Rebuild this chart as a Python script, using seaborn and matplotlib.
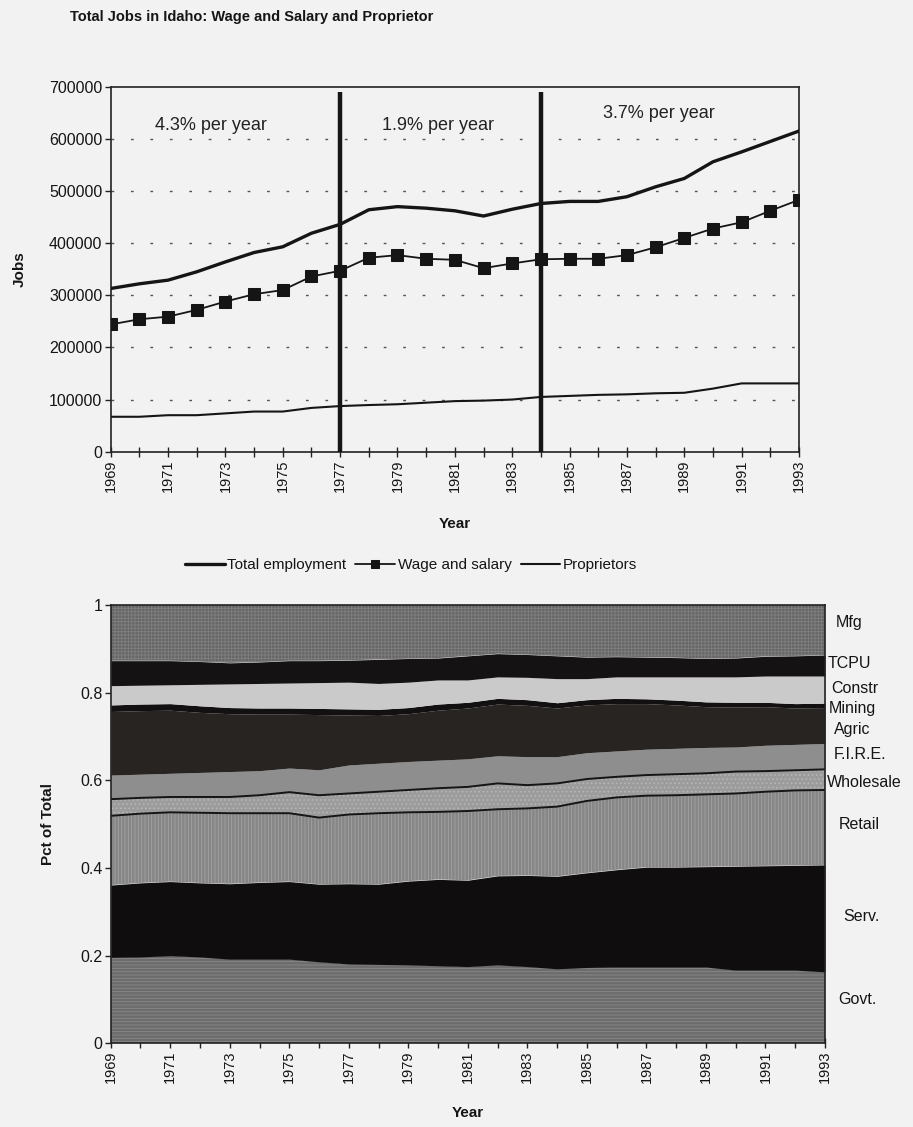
import numpy as np
import pandas as pd
import matplotlib
matplotlib.use("Agg")
import matplotlib.pyplot as plt
from matplotlib.ticker import FuncFormatter
import seaborn as sns

# ---------------- data ----------------
years = list(range(1969, 1994))

total_employment = [313000, 322000, 329000, 345000, 364000, 382000, 393000, 419000,
                    436000, 464000, 470000, 467000, 462000, 452000, 465000, 476000,
                    480000, 480000, 489000, 508000, 524000, 556000, 575000, 595000, 615000]
wage_salary = [244000, 254000, 259000, 272000, 288000, 302000, 310000, 336000,
               347000, 372000, 377000, 370000, 368000, 352000, 361000, 369000,
               370000, 370000, 377000, 392000, 410000, 428000, 440000, 462000, 483000]
proprietors = [67000, 67000, 70000, 70000, 73500, 77000, 77000, 84000,
               87500, 89500, 91000, 94000, 97000, 98000, 100000, 105000,
               107000, 109000, 110000, 112000, 113000, 121000, 131000, 131000, 131000]

period_breaks = [1977, 1984]
period_labels = ["4.3% per year", "1.9% per year", "3.7% per year"]
period_label_x = [1972.5, 1980.4, 1988.1]
period_label_y = [626000, 626000, 649000]

sectors = ["Govt.", "Serv.", "Retail", "Wholesale", "F.I.R.E.",
           "Agric", "Mining", "Constr", "TCPU", "Mfg"]
govt = [.196, .197, .200, .197, .192, .192, .192, .186, .181, .180, .179, .177, .175,
        .179, .175, .170, .173, .174, .174, .174, .174, .167, .167, .167, .163]
serv = [.165, .169, .169, .169, .172, .175, .177, .177, .183, .183, .191, .197, .197,
        .203, .208, .211, .216, .222, .228, .228, .229, .237, .238, .239, .244]
retail = [.158, .158, .158, .160, .161, .158, .156, .152, .158, .162, .157, .154, .158,
          .152, .153, .159, .164, .165, .163, .164, .165, .166, .169, .171, .171]
wholesale = [.038, .036, .035, .036, .037, .041, .048, .051, .048, .049, .051, .054, .055,
             .059, .053, .053, .050, .047, .047, .048, .048, .050, .047, .046, .047]
fire = [.055, .054, .054, .056, .058, .056, .055, .058, .065, .065, .065, .064, .064,
        .063, .065, .061, .060, .059, .059, .059, .059, .056, .059, .059, .059]
agric = [.145, .145, .144, .137, .132, .129, .123, .126, .114, .109, .109, .114, .116,
         .118, .117, .111, .109, .108, .104, .099, .093, .091, .088, .083, .082]
mining = [.015, .015, .015, .015, .014, .014, .014, .014, .014, .014, .014, .014, .013,
          .013, .013, .012, .012, .012, .011, .011, .011, .011, .010, .010, .010]
constr = [.044, .043, .043, .049, .054, .056, .057, .059, .061, .059, .058, .055, .051,
          .049, .051, .055, .048, .049, .050, .053, .057, .058, .060, .063, .062]
tcpu = [.057, .056, .055, .052, .048, .049, .051, .050, .050, .055, .054, .050, .055,
        .053, .052, .052, .049, .046, .045, .044, .042, .043, .045, .046, .048]
mfg = [.127, .127, .127, .129, .132, .130, .127, .127, .126, .124, .122, .121, .116,
       .111, .113, .116, .119, .118, .119, .120, .122, .121, .117, .116, .114]

label_y = [0.10, 0.29, 0.50, 0.595, 0.66, 0.715, 0.764, 0.81, 0.867, 0.96]
label_x_px = [838, 843, 839, 827, 834, 834, 829, 831, 828, 836]

# ---------------- style ----------------
sns.set_theme(style="white")
plt.rcParams["font.family"] = ["Liberation Sans", "DejaVu Sans"]
plt.rcParams["hatch.linewidth"] = 0.6
BG = "#f2f2f2"
INK = "#151515"

fig = plt.figure(figsize=(9.13, 11.27), dpi=100, facecolor=BG)

W, H = 913, 1127
def axrect(l, r, t, b):
    return [l / W, 1 - b / H, (r - l) / W, (b - t) / H]

def style_axis(ax):
    ax.set_xticks(years)
    ax.set_xticklabels([str(y) if (y - 1969) % 2 == 0 else "" for y in years],
                       rotation=90)
    ax.tick_params(axis="x", direction="inout", length=7, width=1, color="#222222",
                   labelsize=10.5, pad=2, bottom=True, labelcolor=INK)
    ax.tick_params(axis="y", direction="out", length=4, width=1, color="#222222",
                   labelsize=11.5, left=True, pad=2, labelcolor=INK)
    for s in ax.spines.values():
        s.set_color("#222222")
        s.set_linewidth(1.2)

# ---------------- top chart ----------------
ax1 = fig.add_axes(axrect(110.7, 799, 86.7, 451.7))
ax1.set_facecolor(BG)

df = pd.DataFrame({"Year": years, "Total employment": total_employment,
                   "Wage and salary": wage_salary, "Proprietors": proprietors})

for yv in range(100000, 700000, 100000):
    ax1.axhline(yv, color="#555555", lw=1.0, ls=(0, (2, 12)), zorder=1)

sns.lineplot(data=df, x="Year", y="Total employment", ax=ax1, color=INK,
             lw=2.4, label="Total employment", zorder=3)
sns.lineplot(data=df, x="Year", y="Wage and salary", ax=ax1, color=INK,
             lw=1.3, marker="s", markersize=8, markeredgecolor=INK,
             label="Wage and salary", zorder=3)
sns.lineplot(data=df, x="Year", y="Proprietors", ax=ax1, color=INK,
             lw=1.5, label="Proprietors", zorder=3)

for xb in period_breaks:
    ax1.plot([xb, xb], [0, 690000], color=INK, lw=3.2, zorder=4,
             solid_capstyle="butt")

for txt, x, y in zip(period_labels, period_label_x, period_label_y):
    ax1.text(x, y, txt, ha="center", va="center", fontsize=13, color="#222222")

ax1.set_xlim(1969, 1993)
ax1.set_ylim(0, 700000)
ax1.set_yticks(range(0, 700001, 100000))
ax1.yaxis.set_major_formatter(FuncFormatter(lambda v, p: f"{int(v)}"))
style_axis(ax1)
ax1.set_xlabel("Year", fontsize=11, fontweight="bold", color=INK)
ax1.set_ylabel("Jobs", fontsize=11, fontweight="bold", color=INK)
ax1.xaxis.set_label_coords(0.5, -0.18)
ax1.yaxis.set_label_coords(-0.122, 0.5)

handles, labels = ax1.get_legend_handles_labels()
ax1.get_legend().remove()
fig.legend(handles, labels, loc="center", bbox_to_anchor=(411 / W, 1 - 565 / H),
           ncol=3, frameon=False, fontsize=11, handlelength=2.6,
           columnspacing=0.6, handletextpad=0.15, markerscale=0.8,
           labelcolor=INK)

# ---------------- bottom chart ----------------
ax2 = fig.add_axes(axrect(110.7, 825, 605, 1043.3))
ax2.set_facecolor(BG)

series = [govt, serv, retail, wholesale, fire, agric, mining, constr, tcpu, mfg]
face = ["#6c6c6c", "#0f0d0d", "#868686", "#9c9c9c", "#8e8e8e",
        "#282422", "#121010", "#cacaca", "#141212", "#666666"]
hatches = ["-----", None, "|||||", "....", None, None, None, None, None, "+++++"]
hatch_col = ["#8a8a8a", None, "#a4a4a4", "#b8b8b8", None, None, None, None, None, "#808080"]

polys = ax2.stackplot(years, *series, colors=face, linewidth=0)
for poly, h, hc in zip(polys, hatches, hatch_col):
    poly.set_linewidth(0)
    if h:
        poly.set_hatch(h)
        poly.set_edgecolor(hc)

cum = np.cumsum(np.array(series), axis=0)
ax2.plot(years, cum[2], color=INK, lw=1.4)
ax2.plot(years, cum[3], color=INK, lw=1.4)

for name, y, xp in zip(sectors, label_y, label_x_px):
    ax2.text((xp - 110.7) / 714.3, y, name, transform=ax2.get_yaxis_transform(),
             ha="left", va="center", fontsize=11.5, color=INK)

ax2.set_xlim(1969, 1993)
ax2.set_ylim(0, 1)
ax2.set_yticks([0, 0.2, 0.4, 0.6, 0.8, 1.0])
ax2.yaxis.set_major_formatter(FuncFormatter(lambda v, p: f"{v:g}"))
style_axis(ax2)
ax2.set_xlabel("Year", fontsize=11, fontweight="bold", color=INK)
ax2.set_ylabel("Pct of Total", fontsize=11, fontweight="bold", color=INK)
ax2.xaxis.set_label_coords(0.5, -0.143)
ax2.yaxis.set_label_coords(-0.078, 0.5)

fig.text(70 / W, 1 - 17 / H, "Total Jobs in Idaho: Wage and Salary and Proprietor",
         ha="left", va="center", fontsize=10.5, fontweight="bold", color=INK)

fig.savefig("out.png", dpi=100, facecolor=BG)
